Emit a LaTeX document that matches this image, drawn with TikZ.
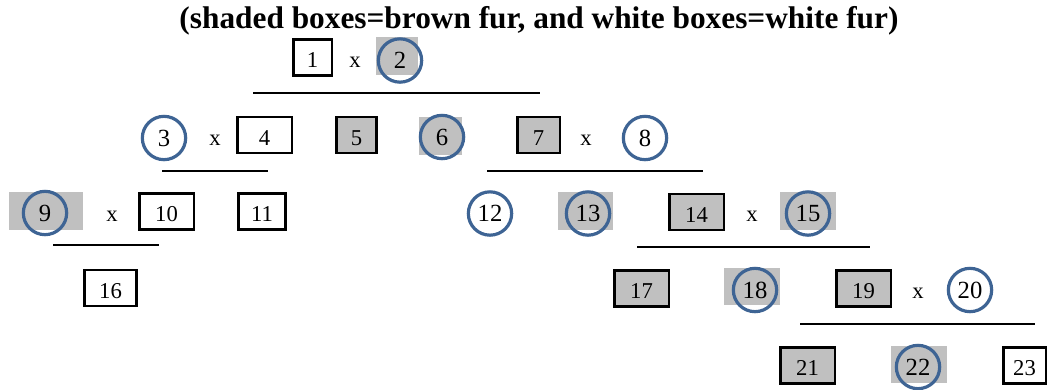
\documentclass[tikz,border=0pt]{standalone}
\usepackage{fontspec}
\setmainfont{Liberation Serif}
\definecolor{furgray}{RGB}{192,192,192}
\definecolor{ringblue}{RGB}{62,100,148}

\begin{document}
\begin{tikzpicture}[x=0.75pt, y=-0.75pt,
  num/.style={font=\fontsize{17}{20}\selectfont},
  pupbox/.style={num, draw=black, line width=2pt, minimum height=27pt, inner sep=0pt, text height=15pt, text depth=0pt},
  brownfur/.style={fill=furgray},
  pupring/.style={font=\fontsize{18.5}{22}\selectfont, circle, draw=ringblue, line width=2.4pt, minimum size=32.5pt, inner sep=0pt},
  cross/.style={num},
  bar/.style={line width=1.5pt}]
  \useasboundingbox (0,0) rectangle (1049,389);

  \node[font=\bfseries\fontsize{23.5}{28}\selectfont, anchor=base] (title) at (539,28) {(shaded boxes=brown fur, and white boxes=white fur)};

  % row 1: 1 x 2
  \fill[furgray] (376,37) rectangle (418,75);
  \node[pupbox, minimum width=29pt] (b1) at (312.5,57.5) {1};
  \node[cross] (x1) at (355,62.5) {x};
  \node[pupring] (c2) at (400,60.5) {2};
  \draw[bar] (253,93) -- (540,93);

  % row 2: 3 x 4, 5, 6, 7 x 8
  \node[pupring] (c3) at (164,138) {3};
  \node[cross] (x2) at (215,140) {x};
  \node[pupbox, minimum width=41pt] (b4) at (264.5,135) {4};
  \node[pupbox, brownfur, minimum width=30pt] (b5) at (356.5,135) {5};
  \fill[furgray] (419,117) rectangle (462,155);
  \node[pupring] (c6) at (442,137) {6};
  \node[pupbox, brownfur, minimum width=32pt] (b7) at (538.5,135) {7};
  \node[cross] (x3) at (586,140) {x};
  \node[pupring] (c8) at (645,138) {8};
  \draw[bar] (162,171) -- (268,171);
  \draw[bar] (487,171) -- (703,171);

  % row 3: 9 x 10, 11 and 12, 13, 14 x 15
  \fill[furgray] (9,192) rectangle (83,230);
  \node[pupring] (c9) at (45,213) {9};
  \node[cross] (x4) at (112,216.5) {x};
  \node[pupbox, minimum width=41pt] (b10) at (166.5,211.5) {10};
  \node[pupbox, minimum width=35.5pt] (b11) at (262,211.5) {11};
  \node[pupring] (c12) at (490,213.5) {12};
  \fill[furgray] (558,192) rectangle (613,230);
  \node[pupring] (c13) at (588,213.5) {13};
  \node[pupbox, brownfur, minimum width=41pt] (b14) at (696.5,212) {14};
  \node[cross] (x5) at (752,216.5) {x};
  \fill[furgray] (780,192) rectangle (836,230);
  \node[pupring] (c15) at (808,213.5) {15};
  \draw[bar] (53,245) -- (159,245);
  \draw[bar] (637,247) -- (870,247);

  % row 4: 16 and 17, 18, 19 x 20
  \node[pupbox, minimum width=39pt] (b16) at (110.5,288) {16};
  \node[pupbox, brownfur, minimum width=41pt] (b17) at (641.5,288.5) {17};
  \fill[furgray] (724,268) rectangle (780,305);
  \node[pupring] (c18) at (755,290) {18};
  \node[pupbox, brownfur, minimum width=41pt] (b19) at (863.5,288.5) {19};
  \node[cross] (x6) at (918,293.5) {x};
  \node[pupring] (c20) at (970,290) {20};
  \draw[bar] (800,324) -- (1035,324);

  % row 5: 21, 22, 23
  \node[pupbox, brownfur, minimum width=41pt] (b21) at (807.5,365.5) {21};
  \fill[furgray] (891,346) rectangle (947,383);
  \node[pupring] (c22) at (918,367) {22};
  \node[pupbox, minimum width=32pt] (b23) at (1024.5,365.5) {23};
\end{tikzpicture}
\end{document}
